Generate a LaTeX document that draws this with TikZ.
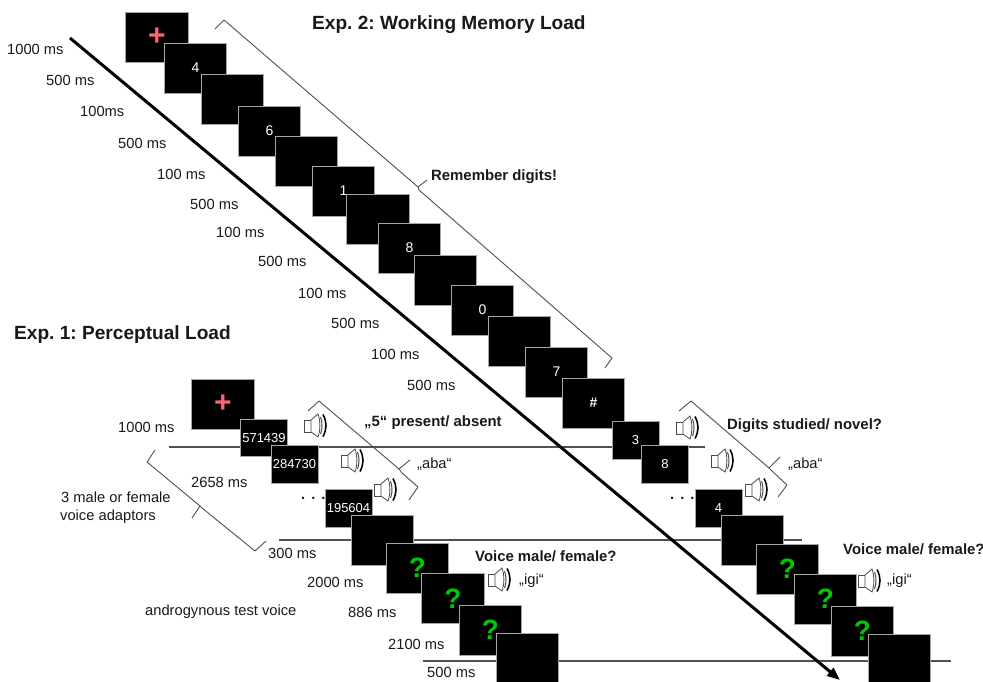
\documentclass[tikz,border=0pt]{standalone}
\usepackage{fontspec}
\setmainfont{Liberation Sans}
\usetikzlibrary{arrows.meta}
\frenchspacing
\definecolor{crosspink}{RGB}{252,100,112}
\definecolor{qgreen}{RGB}{0,200,0}
\definecolor{rulegrey}{RGB}{80,80,80}
\definecolor{txt}{RGB}{25,25,25}
\tikzset{
  screenbase/.style={draw=gray!70,line width=0.8pt,fill=black,text=white,inner sep=0pt,rectangle,font=\fontsize{14}{14}\selectfont},
  wide/.style={screenbase,minimum width=62.5pt,minimum height=50pt},
  narrow/.style={screenbase,minimum width=47pt,minimum height=37.5pt,font=\fontsize{13}{13}\selectfont},
  crossmark/.style={inner sep=0pt,text=crosspink,font=\fontsize{30}{30}\selectfont\bfseries},
  qmark/.style={inner sep=0pt,text=qgreen,font=\fontsize{28}{28}\selectfont\bfseries},
  lab/.style={anchor=base west,inner sep=0pt,text=txt,font=\fontsize{14.7}{14.7}\selectfont},
  blab/.style={lab,font=\fontsize{14.9}{14.9}\selectfont\bfseries},
  ttl/.style={lab,font=\fontsize{19.1}{19.1}\selectfont\bfseries},
  rulel/.style={draw=rulegrey,line width=1.2pt},
  bracel/.style={draw=rulegrey,line width=0.9pt,line join=round},
  spk/.pic={
    \draw[gray!60!black,line width=0.8pt,fill=white] (0,6) -- (7,6) -- (7,18) -- (0,18) -- cycle;
    \draw[gray!60!black,line width=0.8pt,fill=white] (7,6) -- (14,0) .. controls (16.5,7) and (16.5,16) .. (14,23) -- (7,18) -- cycle;
    \draw[gray!60!black,line width=1pt] (16.5,3) .. controls (18.5,8) and (18.5,15) .. (16.5,20);
    \draw[black,line width=1.6pt] (19,0.5) .. controls (23,8) and (23,15) .. (19,22.5);
  }
}
\begin{document}
\begin{tikzpicture}[x=1pt,y=-1pt]
\useasboundingbox (0,0) rectangle (983,682);
% horizontal event lines
\coordinate (la) at (169,447); \coordinate (lb) at (705,447);
\coordinate (lc) at (279,540); \coordinate (ld) at (802,540);
\coordinate (le) at (423,661); \coordinate (lf) at (951,661);
\draw[rulel] (la) -- (lb);
\draw[rulel] (lc) -- (ld);
\draw[rulel] (le) -- (lf);
% time arrow
\coordinate (ta) at (70,38); \coordinate (tb) at (840,680);
\draw[line width=3pt,-{Triangle[length=13pt,width=10pt]}] (ta) -- (tb);
% Exp. 2 screens
\node[wide] (m1) at (157,37) {}; \node[crossmark] (m1c) at (m1.center) {+};
\node[wide] (m2) at (195.5,68) {4};
\node[wide] (m3) at (232.5,99) {};
\node[wide] (m4) at (269.5,131) {6};
\node[wide] (m5) at (306.5,161) {};
\node[wide] (m6) at (343.5,191) {1};
\node[wide] (m7) at (378,219) {};
\node[wide] (m8) at (409.5,248) {8};
\node[wide] (m9) at (445.5,280) {};
\node[wide] (m10) at (482.5,310) {0};
\node[wide] (m11) at (519.5,341) {};
\node[wide] (m12) at (556.5,372) {7};
\node[wide] (m13) at (593.5,403) {\bfseries\#};
\node[narrow] (m14) at (635.5,440.5) {3};
\node[narrow] (m15) at (665,464.5) {8};
\node[narrow] (m16) at (718.5,508.5) {4};
\node[wide] (m17) at (752.5,540) {};
\node[wide] (m18) at (787.5,569) {}; \node[qmark] (m18q) at (m18.center) {?};
\node[wide] (m19) at (825.5,599) {}; \node[qmark] (m19q) at (m19.center) {?};
\node[wide] (m20) at (862.5,631) {}; \node[qmark] (m20q) at (m20.center) {?};
\node[wide] (m21) at (899.5,659) {};
% Exp. 1 screens
\node[wide] (p1) at (223,404) {}; \node[crossmark] (p1c) at (p1.center) {+};
\node[narrow] (p2) at (264,438) {571439};
\node[narrow] (p3) at (294.5,464.5) {284730};
\node[narrow] (p4) at (348.5,508.5) {195604};
\node[wide] (p5) at (382.5,540) {};
\node[wide] (p6) at (417.5,568) {}; \node[qmark] (p6q) at (p6.center) {?};
\node[wide] (p7) at (453,598.5) {}; \node[qmark] (p7q) at (p7.center) {?};
\node[wide] (p8) at (490.5,630) {}; \node[qmark] (p8q) at (p8.center) {?};
\node[wide] (p9) at (527.5,658) {};
% braces
\draw[bracel] (215,29) -- (224,20) -- (418,187) -- (427,180);
\draw[bracel] (418,187) -- (419,190) -- (612,358) -- (605,368);
\draw[bracel] (308,411) -- (319,401) -- (399,469) -- (410,460);
\draw[bracel] (399,469) -- (402,473) -- (418,487) -- (409,500);
\draw[bracel] (155,450) -- (147,462) -- (200,506) -- (192,518);
\draw[bracel] (200,506) -- (202,508) -- (255,551) -- (266,541);
\draw[bracel] (679,411) -- (691,401) -- (769,468) -- (780,457);
\draw[bracel] (769,468) -- (771,470) -- (787,485) -- (778,497);
% speakers
\pic at (304,414) {spk};
\pic at (341,449) {spk};
\pic at (374,478) {spk};
\pic at (488,568) {spk};
\pic at (676,416) {spk};
\pic at (711,449) {spk};
\pic at (745,478) {spk};
\pic at (858,569) {spk};
% dots
\node[lab,font=\fontsize{14.7}{14.7}\selectfont\bfseries] (d1) at (301,499) {.\hskip 6pt.\hskip 6pt.};
\node[lab,font=\fontsize{14.7}{14.7}\selectfont\bfseries] (d2) at (670,499) {.\hskip 6pt.\hskip 6pt.};
% time labels, Exp. 2
\node[lab] (t1) at (7,55) {1000 ms};
\node[lab] (t2) at (46,86) {500 ms};
\node[lab] (t3) at (80,117) {100ms};
\node[lab] (t4) at (118,149) {500 ms};
\node[lab] (t5) at (157,179) {100 ms};
\node[lab] (t6) at (190,209) {500 ms};
\node[lab] (t7) at (216,237) {100 ms};
\node[lab] (t8) at (258,266) {500 ms};
\node[lab] (t9) at (298,298) {100 ms};
\node[lab] (t10) at (331,328) {500 ms};
\node[lab] (t11) at (371,359) {100 ms};
\node[lab] (t12) at (407,390) {500 ms};
% time labels, Exp. 1
\node[lab] (u1) at (118,432) {1000 ms};
\node[lab] (u2) at (191,487) {2658 ms};
\node[lab] (u3) at (268,558) {300 ms};
\node[lab] (u4) at (307,587) {2000 ms};
\node[lab] (u5) at (348,617) {886 ms};
\node[lab] (u6) at (388,649) {2100 ms};
\node[lab] (u7) at (427,677) {500 ms};
% other labels
\node[lab] (n1) at (61,502) {3 male or female};
\node[lab] (n2) at (60,520) {voice adaptors};
\node[lab] (n3) at (145,615) {androgynous test voice};
\node[lab] (a1) at (417,468) {„aba“};
\node[lab] (a2) at (788,468) {„aba“};
\node[lab] (i1) at (519,584) {„igi“};
\node[lab] (i2) at (887,584) {„igi“};
% headings
\node[ttl] (h2) at (312,30) {Exp. 2: Working Memory Load};
\node[ttl] (h1) at (14,339) {Exp. 1: Perceptual Load};
\node[blab] (b1) at (431,180) {Remember digits!};
\node[blab] (b2) at (364,426) {„5“ present/ absent};
\node[blab] (b3) at (727,429) {Digits studied/ novel?};
\node[blab] (b4) at (475,561) {Voice male/ female?};
\node[blab] (b5) at (843,554) {Voice male/ female?};
\end{tikzpicture}
\end{document}
